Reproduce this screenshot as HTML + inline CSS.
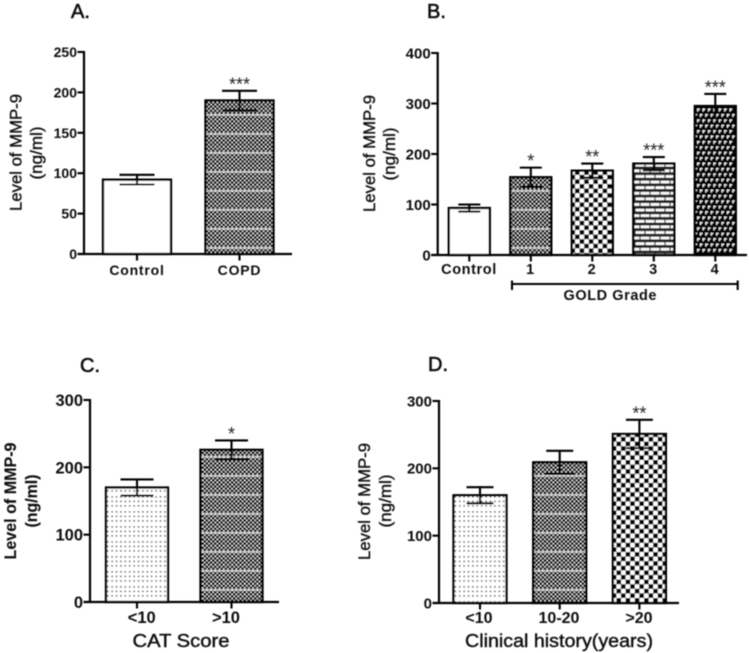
<!DOCTYPE html>
<html lang="en">
<head>
<meta charset="utf-8">
<title>Level of MMP-9 bar charts</title>
<style>
html,body{margin:0;padding:0;background:#fff;width:749px;height:653px;overflow:hidden}
svg{display:block}
text{font-family:"Liberation Sans",Arial,sans-serif;fill:#111}
</style>
</head>
<body>
<svg id="figure" xmlns="http://www.w3.org/2000/svg" width="749" height="653" viewBox="0 0 749 653">
<defs>
  <filter id="soft" x="-5%" y="-5%" width="110%" height="110%"><feGaussianBlur stdDeviation="0.4"/></filter>
  <pattern id="fine" patternUnits="userSpaceOnUse" width="4.2" height="4.2">
    <rect width="4.2" height="4.2" fill="#000"/>
    <rect x="0.3" y="0.3" width="1.6" height="1.6" fill="#fff"/>
    <rect x="2.4" y="2.4" width="1.6" height="1.6" fill="#fff"/>
  </pattern>
  <pattern id="dense" patternUnits="userSpaceOnUse" width="4.2" height="19">
    <rect width="4.2" height="19" fill="url(#fine)"/>
    <rect y="0" width="4.2" height="1.8" fill="#fff" fill-opacity="0.72"/>
  </pattern>
  <pattern id="checker" patternUnits="userSpaceOnUse" width="9.2" height="9.2">
    <rect width="9.2" height="9.2" fill="#fff"/>
    <rect width="4.6" height="4.6" fill="#000"/>
    <rect x="4.6" y="4.6" width="4.6" height="4.6" fill="#000"/>
  </pattern>
  <pattern id="brick" patternUnits="userSpaceOnUse" width="10" height="11.2">
    <rect width="10" height="11.2" fill="#222"/>
    <rect x="0.6" y="1.5" width="8.8" height="2.7" fill="#fff"/>
    <rect x="5.6" y="7.1" width="8.8" height="2.7" fill="#fff"/>
    <rect x="-4.4" y="7.1" width="8.8" height="2.7" fill="#fff"/>
  </pattern>
  <pattern id="weave" patternUnits="userSpaceOnUse" width="5.4" height="10.8">
    <rect width="5.4" height="10.8" fill="#050505"/>
    <rect x="0.6" y="0.6" width="2.6" height="1.3" fill="#fff"/>
    <rect x="0.6" y="0.6" width="1.2" height="3" fill="#fff"/>
    <rect x="3.3" y="6" width="2.1" height="1.3" fill="#fff"/>
    <rect x="0" y="6" width="0.5" height="1.3" fill="#fff"/>
    <rect x="3.3" y="6" width="1.2" height="3" fill="#fff"/>
  </pattern>
  <pattern id="dots" patternUnits="userSpaceOnUse" width="4.4" height="15">
    <rect width="4.4" height="15" fill="#fff"/>
    <rect x="1.4" y="1.2" width="1.4" height="1.4" fill="#222"/>
    <rect x="1.4" y="5.7" width="1.4" height="1.4" fill="#222"/>
    <rect x="1.4" y="10.2" width="1.4" height="1.4" fill="#222"/>
  </pattern>
</defs>
<g id="root" filter="url(#soft)"></g>
</svg>
<script>
var categoriesA = ["Control", "COPD"];
var valuesA = [92, 190];
var errorsA = [6, 12];
var starsA = ["", "***"];
var fillsA = ["#fff", "url(#dense)"];
var ticksA = [0, 50, 100, 150, 200, 250];

var categoriesB = ["Control", "1", "2", "3", "4"];
var valuesB = [93, 154, 167, 181, 295];
var errorsB = [7, 19, 14, 13, 24];
var starsB = ["", "*", "**", "***", "***"];
var fillsB = ["#fff", "url(#dense)", "url(#checker)", "url(#brick)", "url(#weave)"];
var ticksB = [0, 100, 200, 300, 400];

var categoriesC = ["<10", ">10"];
var valuesC = [170, 226];
var errorsC = [12, 14];
var starsC = ["", "*"];
var fillsC = ["url(#dots)", "url(#dense)"];
var ticksC = [0, 100, 200, 300];

var categoriesD = ["<10", "10-20", ">20"];
var valuesD = [160, 209, 251];
var errorsD = [12, 17, 21];
var starsD = ["", "", "**"];
var fillsD = ["url(#dots)", "url(#dense)", "url(#checker)"];
var ticksD = [0, 100, 200, 300];

var NS = "http://www.w3.org/2000/svg";
var root = document.getElementById("root");

function mk(parent, tag, attrs, name, text) {
  var el = document.createElementNS(NS, tag);
  for (var k in attrs) { el.setAttribute(k, attrs[k]); }
  
  
  if (text !== undefined) { el.textContent = text; }
  parent.appendChild(el);
  return el;
}

function line(parent, x1, y1, x2, y2, name, w) {
  return mk(parent, "line", {x1: x1, y1: y1, x2: x2, y2: y2, stroke: "#000", "stroke-width": w || 2.1}, name);
}

function rotated(parent, str, x, cy, size, weight, len, name) {
  var a = {x: x, y: cy, "font-size": size, "font-weight": weight, "text-anchor": "middle", stroke: "#111", "stroke-width": weight === 700 ? 0.1 : 0.35, transform: "rotate(-90 " + x + " " + cy + ")"};
  if (len) { a.textLength = len; a.lengthAdjust = "spacingAndGlyphs"; }
  return mk(parent, "text", a, name, str);
}

function drawPanel(p) {
  var g = mk(root, "g", {}, "panel-" + p.id);
  function yScale(v) { return p.y0 - (v / p.max) * (p.y0 - p.yTop); }
  function xScale(i) { return p.first + i * p.step; }

  mk(g, "text", {x: p.titleX, y: p.titleY, "font-size": 20, "font-weight": 400, stroke: "#111", "stroke-width": 0.6}, "panel-title-" + p.id, p.id + ".");

  p.ticks.forEach(function (t) {
    var y = yScale(t);
    line(g, p.axisX - 6.5, y, p.axisX, y, "y-tick-" + t);
    mk(g, "text", {x: p.axisX - 7, y: y + p.tickFont * 0.36, "font-size": p.tickFont, "font-weight": 700, "text-anchor": "end"}, "y-tick-label-" + t, String(t));
  });

  p.values.forEach(function (v, i) {
    var cx = xScale(i), top = yScale(v);
    mk(g, "rect", {x: cx - p.barW / 2, y: top, width: p.barW, height: p.y0 - top, fill: p.fills[i], stroke: "#000", "stroke-width": 2.3}, "bar-" + p.id + "-" + p.categories[i]);
    var hi = yScale(v + p.errors[i]), lo = yScale(v - p.errors[i]);
    line(g, cx, hi, cx, lo, "error-bar-" + p.id + "-" + p.categories[i]);
    line(g, cx - p.capW / 2, hi, cx + p.capW / 2, hi, "error-cap-upper-" + p.id + "-" + p.categories[i]);
    line(g, cx - p.capW / 2, lo, cx + p.capW / 2, lo, "error-cap-lower-" + p.id + "-" + p.categories[i]);
    if (p.stars[i]) {
      mk(g, "text", {x: cx, y: hi - 0.5, "font-size": 18, "text-anchor": "middle", style: "fill:#222"}, "significance-" + p.id + "-" + p.categories[i], p.stars[i]);
    }
    line(g, cx, p.y0, cx, p.y0 + 6.5, "x-tick-" + p.id + "-" + p.categories[i]);
    var lx = p.labelFirst + i * p.labelStep;
    mk(g, "text", {x: lx, y: p.labelY, "font-size": p.labelFont, "font-weight": 700, "text-anchor": "middle", "letter-spacing": p.labelSpacing}, "x-label-" + p.id + "-" + p.categories[i], p.categories[i]);
  });

  line(g, p.axisX, p.yTop - 1, p.axisX, p.y0 + 1, "y-axis-" + p.id, 2.2);
  line(g, p.axisX - 6.5, p.y0, p.xEnd, p.y0, "x-axis-" + p.id, 2.2);

  rotated(g, "Level of MMP-9", p.t1X, p.tCy, 16.5, p.titleWeight, 117, "y-axis-title-" + p.id);
  rotated(g, "(ng/ml)", p.t2X, p.t2Cy, 16.5, p.titleWeight, 53, "y-axis-unit-" + p.id);
}

drawPanel({id: "A", categories: categoriesA, values: valuesA, errors: errorsA, stars: starsA, fills: fillsA, ticks: ticksA,
  max: 250, y0: 254, yTop: 52, axisX: 84, xEnd: 292, first: 137, step: 102.5, barW: 68, capW: 35,
  tickFont: 14, labelFirst: 137, labelStep: 102.5, labelY: 275, labelFont: 14, labelSpacing: 0.8,
  titleX: 71, titleY: 18, t1X: 21.5, tCy: 152.5, t2X: 42, t2Cy: 153, titleWeight: 400});

drawPanel({id: "B", categories: categoriesB, values: valuesB, errors: errorsB, stars: starsB, fills: fillsB, ticks: ticksB,
  max: 400, y0: 255, yTop: 53, axisX: 437.7, xEnd: 747, first: 469.3, step: 61.5, barW: 41, capW: 22,
  tickFont: 15, labelFirst: 469, labelStep: 61.5, labelY: 274, labelFont: 14.5, labelSpacing: 0.6,
  titleX: 427, titleY: 18, t1X: 375, tCy: 153.5, t2X: 395, t2Cy: 154, titleWeight: 400});

drawPanel({id: "C", categories: categoriesC, values: valuesC, errors: errorsC, stars: starsC, fills: fillsC, ticks: ticksC,
  max: 300, y0: 602, yTop: 400, axisX: 90, xEnd: 279, first: 137, step: 94.5, barW: 62, capW: 33,
  tickFont: 16.5, labelFirst: 141.7, labelStep: 84.3, labelY: 623, labelFont: 16.5, labelSpacing: 0,
  titleX: 80, titleY: 372, t1X: 16, tCy: 501, t2X: 37, t2Cy: 501, titleWeight: 700});

drawPanel({id: "D", categories: categoriesD, values: valuesD, errors: errorsD, stars: starsD, fills: fillsD, ticks: ticksD,
  max: 300, y0: 603, yTop: 401, axisX: 439, xEnd: 679, first: 480, step: 79.7, barW: 53, capW: 27,
  tickFont: 15, labelFirst: 479, labelStep: 80, labelY: 623, labelFont: 16, labelSpacing: 0,
  titleX: 428, titleY: 371, t1X: 370, tCy: 501.5, t2X: 391, t2Cy: 501, titleWeight: 400});

var bracket = mk(root, "g", {}, "gold-grade-bracket");
line(bracket, 512, 284, 737.7, 284, "gold-bracket-line");
line(bracket, 512, 280.5, 512, 290, "gold-bracket-left-end");
line(bracket, 737.7, 280.5, 737.7, 290, "gold-bracket-right-end");
mk(root, "text", {x: 610, y: 300, "font-size": 14.5, "font-weight": 700, "text-anchor": "middle", textLength: 93, lengthAdjust: "spacing"}, "x-axis-title-gold-grade", "GOLD Grade");
mk(root, "text", {x: 181, y: 647, "font-size": 18, "font-weight": 400, "text-anchor": "middle", stroke: "#111", "stroke-width": 0.4, textLength: 97, lengthAdjust: "spacingAndGlyphs"}, "x-axis-title-cat-score", "CAT Score");
mk(root, "text", {x: 559, y: 647, "font-size": 18, "font-weight": 400, "text-anchor": "middle", stroke: "#111", "stroke-width": 0.4, textLength: 188, lengthAdjust: "spacingAndGlyphs"}, "x-axis-title-clinical-history", "Clinical history(years)");
</script>
</body>
</html>
